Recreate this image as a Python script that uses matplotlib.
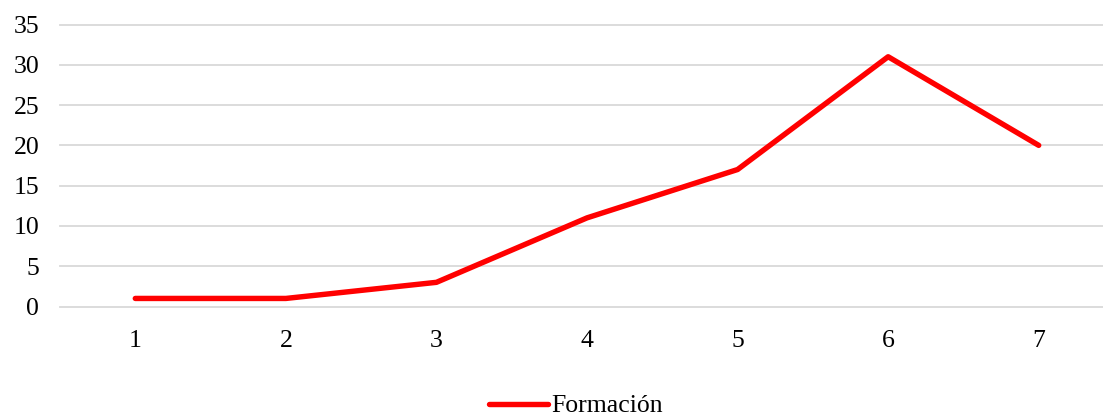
import numpy as np
import matplotlib.pyplot as plt
from matplotlib.lines import Line2D

categories = ["1", "2", "3", "4", "5", "6", "7"]
formacion = [1, 1, 3, 11, 17, 31, 20]
y_ticks = [0, 5, 10, 15, 20, 25, 30, 35]

plt.rcParams["font.family"] = ["Liberation Serif", "DejaVu Serif"]

W, H = 1103, 418
fig = plt.figure(figsize=(W / 100, H / 100), dpi=100)
# plot area runs slightly past the right edge, as in the source
ax = fig.add_axes([60 / W, 1 - 306.5 / H, 1054 / W, 282 / H])

x = np.arange(1, len(categories) + 1)
ax.plot(x, formacion, color="#FF0000", linewidth=3.9,
        solid_capstyle="round", solid_joinstyle="round", zorder=3)

ax.set_xlim(0.5, len(categories) + 0.5)
ax.set_ylim(0, 35)
ax.set_yticks(y_ticks)
ax.set_xticks(x)
ax.set_xticklabels(categories)
ax.tick_params(axis="both", length=0, labelsize=18.5, colors="black")
ax.tick_params(axis="y", pad=15)
ax.tick_params(axis="x", pad=17)
ax.grid(axis="y", color="#D9D9D9", linewidth=1.3)
for gl in ax.get_ygridlines():
    gl.set_clip_on(False)
ax.set_axisbelow(True)
for s in ax.spines.values():
    s.set_visible(False)

handle = Line2D([], [], color="#FF0000", linewidth=3.9, solid_capstyle="round")
fig.legend([handle], ["Formación"], loc="center", bbox_to_anchor=(576 / W, 1 - 406 / H),
           frameon=False, fontsize=18.5, handlelength=2.3, handletextpad=0.15,
           borderpad=0, borderaxespad=0)

fig.savefig("out.png", dpi=100)
